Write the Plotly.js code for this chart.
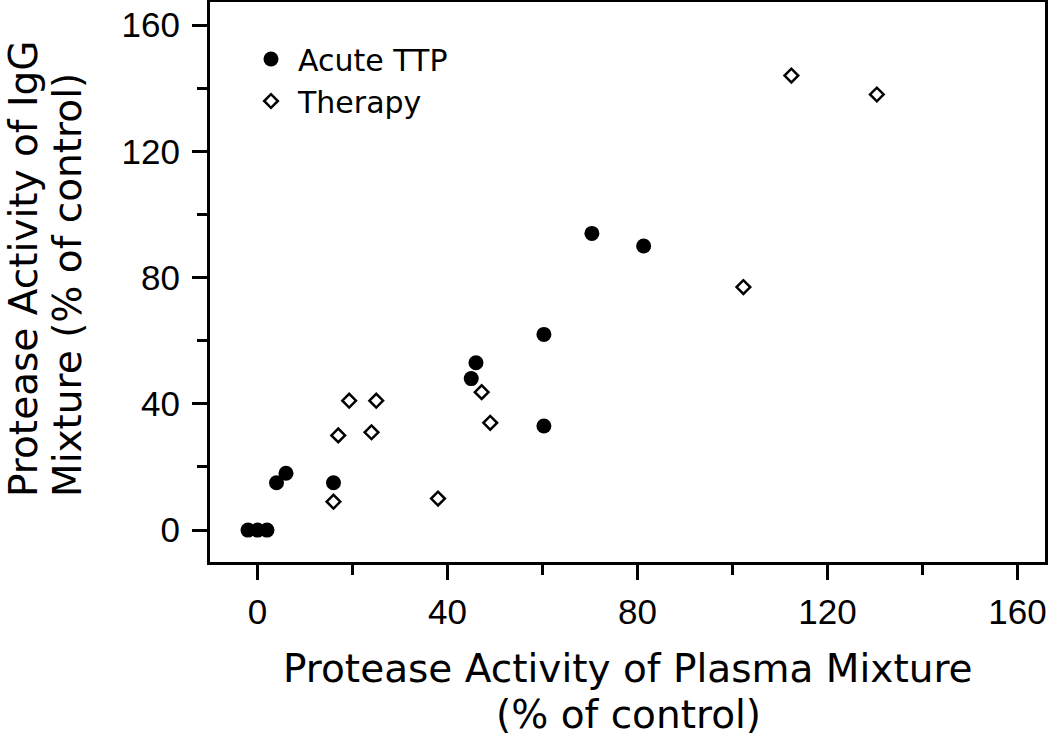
<!DOCTYPE html>
<html>
<head>
<meta charset="utf-8">
<script src="https://cdn.plot.ly/plotly-3.0.1.min.js"></script>
<style>html,body{margin:0;padding:0;background:#fff;}#chart{width:1050px;height:736px;}</style>
</head>
<body>
<div id="chart"></div>
<script>
// ---- data ----
const acuteName = "Acute TTP";
const acuteX = [-2, 0, 2, 4, 6, 16, 45, 46, 60.3, 60.3, 70.4, 81.3];
const acuteY = [0, 0, 0, 15, 18, 15, 48, 53, 62, 33, 94, 90];

const therapyName = "Therapy";
const therapyX = [16, 17, 19.3, 24, 25, 38, 47.2, 49, 102.3, 112.4, 130.4];
const therapyY = [9, 30, 41, 31, 41, 10, 43.7, 34, 77, 144, 138];

const tickVals = [0, 40, 80, 120, 160];
const tickText = ["0", "40", "80", "120", "160"];

const xTitleLines = ["Protease Activity of Plasma Mixture", "(% of control)"];
const yTitleLines = ["Protease Activity of IgG", "Mixture (% of control)"];

// ---- layout geometry ----
const W = 1050, H = 736;
const M = {l: 210, r: 5, t: 2, b: 174};
const PW = W - M.l - M.r, PH = H - M.t - M.b;
const px2x = p => (p - M.l) / PW;
const px2y = p => (H - M.b - p) / PH;

const titleFont = {family: "DejaVu Sans, sans-serif", size: 39, color: "#000"};
const tickFont = {family: "Liberation Sans, Arial, sans-serif", size: 35, color: "#000"};

const traces = [
  {
    type: "scatter", mode: "markers", name: acuteName,
    x: acuteX, y: acuteY,
    marker: {symbol: "circle", size: 15, color: "#000", line: {width: 0}}
  },
  {
    type: "scatter", mode: "markers", name: therapyName,
    x: therapyX, y: therapyY,
    marker: {symbol: "diamond", size: 10.5, color: "#fff", line: {width: 2.5, color: "#000"}}
  }
];

const axisCommon = {
  showline: true, mirror: true, linewidth: 3, linecolor: "#000",
  showgrid: false, zeroline: false,
  ticks: "outside", ticklen: 15, tickwidth: 3, tickcolor: "#000",
  tickmode: "array", tickvals: tickVals, ticktext: tickText,
  tickfont: tickFont,
  minor: {dtick: 20, tick0: 0, ticks: "outside", ticklen: 10, tickwidth: 3, tickcolor: "#000", showgrid: false}
};

const layout = {
  width: W, height: H, autosize: false,
  margin: M,
  paper_bgcolor: "#fff", plot_bgcolor: "#fff",
  showlegend: true,
  legend: {
    x: px2x(244), y: px2y(33), xanchor: "left", yanchor: "top",
    font: {family: "DejaVu Sans, sans-serif", size: 30, color: "#000"},
    bgcolor: "rgba(0,0,0,0)", borderwidth: 0, itemwidth: 44, tracegroupgap: 0
  },
  xaxis: Object.assign({}, axisCommon, {range: [-10, 165.8], ticklabelstandoff: 2}),
  yaxis: Object.assign({}, axisCommon, {range: [-10.1, 167.3], ticklabelstandoff: 5}),
  annotations: [
    {text: xTitleLines[0], xref: "paper", yref: "paper", x: px2x(628), y: px2y(668),
     xanchor: "center", yanchor: "middle", showarrow: false, font: titleFont},
    {text: xTitleLines[1], xref: "paper", yref: "paper", x: px2x(628), y: px2y(714),
     xanchor: "center", yanchor: "middle", showarrow: false, font: titleFont},
    {text: yTitleLines[0], xref: "paper", yref: "paper", x: px2x(23), y: px2y(498 - 229),
     xanchor: "center", yanchor: "middle", textangle: -90, showarrow: false, font: titleFont},
    {text: yTitleLines[1], xref: "paper", yref: "paper", x: px2x(67), y: px2y(498 - 213),
     xanchor: "center", yanchor: "middle", textangle: -90, showarrow: false, font: titleFont}
  ]
};

Plotly.newPlot("chart", traces, layout, {displayModeBar: false, staticPlot: true});
</script>
</body>
</html>
